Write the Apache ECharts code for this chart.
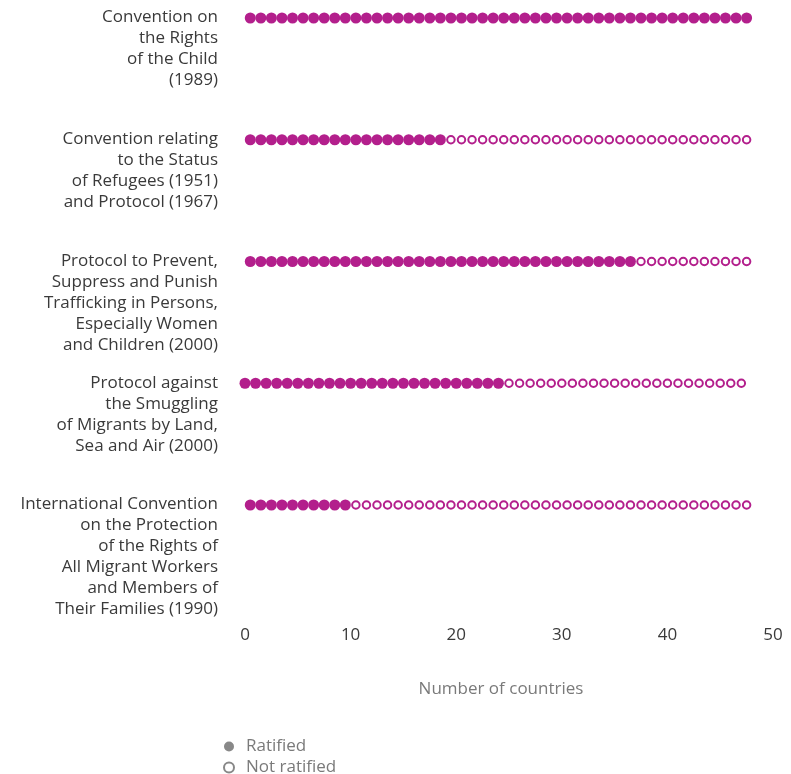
<!DOCTYPE html>
<html>
<head>
<meta charset="utf-8">
<script src="https://cdn.jsdelivr.net/npm/echarts@6/dist/echarts.min.js"></script>
<style>
  html, body { margin: 0; padding: 0; background: #fff; }
  #chart { width: 791px; height: 774px; }
</style>
</head>
<body>
<div id="chart"></div>
<script>
// treaties, top to bottom
var treaties = [
  'Convention on\nthe Rights\nof the Child\n(1989)',
  'Convention relating\nto the Status\nof Refugees (1951)\nand Protocol (1967)',
  'Protocol to Prevent,\nSuppress and Punish\nTrafficking in Persons,\nEspecially Women\nand Children (2000)',
  'Protocol against\nthe Smuggling\nof Migrants by Land,\nSea and Air (2000)',
  'International Convention\non the Protection\nof the Rights of\nAll Migrant Workers\nand Members of\nTheir Families (1990)'
]
var ratified = [48, 19, 37, 25, 10]
var countries = [48, 48, 48, 48, 48]
var xTicks = [0, 10, 20, 30, 40, 50]

var magenta = '#b31f8c'
// where the first dot of each row sits on the axis (one row is drawn a half step left)
var rowStart = [0.5, 0.5, 0.5, 0, 0.5]

var filled = []
var empty = []
treaties.forEach(function (t, r) {
  for (var k = 0; k < countries[r]; k++) {
    var pt = [rowStart[r] + k, t]
    if (k < ratified[r]) filled.push(pt)
    else empty.push(pt)
  }
})

var chart = echarts.init(document.getElementById('chart'))
var font = '"Open Sans", Roboto, Arial, sans-serif'

var option = {
  animation: false,
  textStyle: { fontFamily: font },
  grid: { left: 245, right: 18, top: 18, bottom: 269 },
  xAxis: {
    type: 'value',
    min: xTicks[0],
    max: xTicks[xTicks.length - 1],
    interval: 10,
    axisLine: { show: false },
    axisTick: { show: false },
    splitLine: { show: false },
    axisLabel: { margin: 122, fontSize: 17, color: '#3a3a3a', fontFamily: font },
    name: 'Number of countries',
    nameLocation: 'middle',
    nameGap: 176,
    nameTextStyle: { fontSize: 17, color: '#7a7a7a', fontFamily: font, padding: [0, 16, 0, 0] }
  },
  yAxis: {
    type: 'category',
    data: treaties,
    inverse: true,
    boundaryGap: false,
    axisLine: { show: false },
    axisTick: { show: false },
    splitLine: { show: false },
    axisLabel: {
      margin: 27,
      fontSize: 17,
      lineHeight: 21,
      color: '#3a3a3a',
      align: 'right',
      verticalAlign: 'top',
      padding: [-11, 0, 0, 0],
      fontFamily: font
    }
  },
  legend: {
    orient: 'vertical',
    left: 218,
    top: 732,
    height: 42,
    itemWidth: 24,
    itemHeight: 10,
    itemGap: 2,
    textStyle: { fontSize: 17, lineHeight: 19, color: '#7a7a7a', fontFamily: font },
    data: [
      { name: 'Ratified', icon: 'circle', itemStyle: { color: '#888', borderWidth: 0 } },
      { name: 'Not ratified', icon: 'emptyCircle', itemStyle: { color: '#888', borderColor: '#888', borderWidth: 1.3 } }
    ]
  },
  series: [
    {
      name: 'Ratified',
      type: 'scatter',
      data: filled,
      symbol: 'circle',
      symbolSize: 11,
      itemStyle: { color: magenta, opacity: 1 }
    },
    {
      name: 'Not ratified',
      type: 'scatter',
      data: empty,
      symbol: 'emptyCircle',
      symbolSize: 7.5,
      itemStyle: { color: magenta, borderColor: magenta, borderWidth: 2, opacity: 1 }
    }
  ]
}

chart.setOption(option)
</script>
</body>
</html>
